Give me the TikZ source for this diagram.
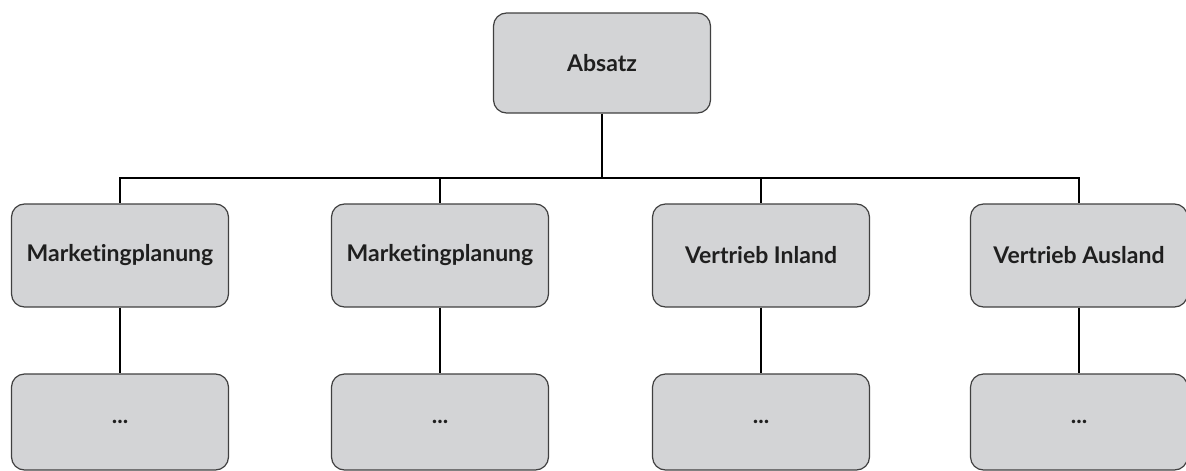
\documentclass[tikz,border=0pt]{standalone}
\usepackage{fontspec}
\setmainfont{Lato}[Ligatures=NoCommon]
\begin{document}
\begin{tikzpicture}[x=1pt,y=-1pt,
  box/.style={draw=black!75, fill=boxgray, line width=1.2pt, rounded corners=13pt,
    minimum width=217pt, inner sep=0pt, font=\fontsize{23}{27}\selectfont\bfseries, text=black!88},
  topbox/.style={box, minimum height=100pt},
  midbox/.style={box, minimum height=103pt},
  lowbox/.style={box, minimum height=96pt},
  link/.style={draw=black, line width=1.5pt}]
\definecolor{boxgray}{HTML}{D3D4D6}
\useasboundingbox (0,0) rectangle (1186,471);
% root
\node[topbox] (root) at (602,63) {Absatz};
% second level
\node[midbox] (m1) at (120,255.5) {Marketingplanung};
\node[midbox] (m2) at (440,255.5) {Marketingplanung};
\node[midbox] (m3) at (761,255.5) {Vertrieb Inland};
\node[midbox] (m4) at (1079,255.5) {Vertrieb Ausland};
% third level
\node[lowbox] (l1) at (120,422) {...};
\node[lowbox] (l2) at (440,422) {...};
\node[lowbox] (l3) at (761,422) {...};
\node[lowbox] (l4) at (1079,422) {...};
% tree connectors
\coordinate (bus) at (602,178);
\draw[link] (root.south) -- (bus);
\foreach \n in {m1,m2,m3,m4}{
  \draw[link] (bus) -| (\n.north);
}
\foreach \a/\b in {m1/l1,m2/l2,m3/l3,m4/l4}{
  \draw[link] (\a.south) -- (\b.north);
}
\end{tikzpicture}
\end{document}
